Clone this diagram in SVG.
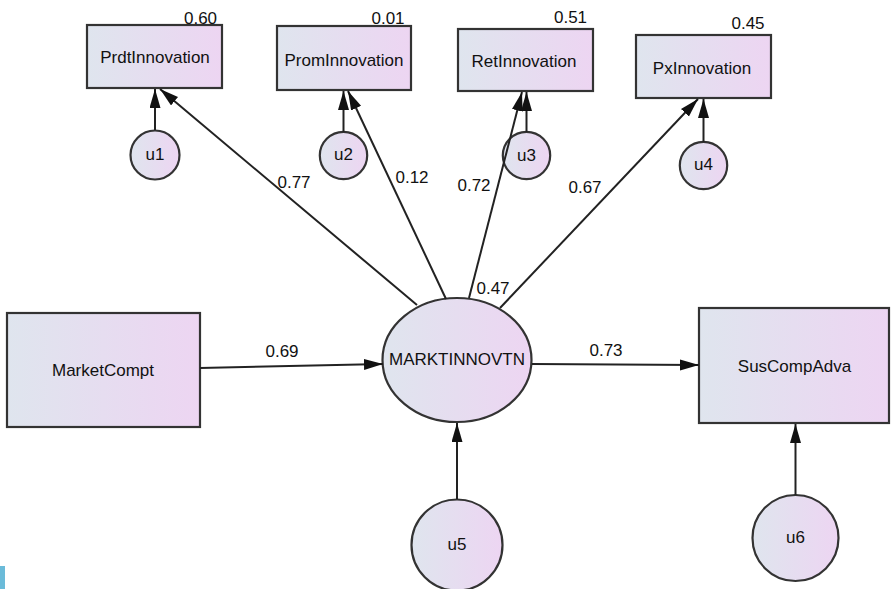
<svg xmlns="http://www.w3.org/2000/svg" width="891" height="589" viewBox="0 0 891 589">
<style>
.box{stroke:#333;stroke-width:2.2;fill:url(#g)}
.t{font-family:"Liberation Sans",Arial,sans-serif;font-size:17px;fill:#111;text-anchor:middle}
.c{stroke:#222;stroke-width:2;fill:none;marker-end:url(#ah)}
</style>
<defs>
<linearGradient id="g" x1="0" y1="0" x2="1" y2="0">
<stop offset="0" stop-color="#dfe5ee"/>
<stop offset="1" stop-color="#edd5f2"/>
</linearGradient>
<marker id="ah" markerUnits="userSpaceOnUse" markerWidth="20" markerHeight="12" refX="19" refY="5.5" orient="auto">
<path d="M0,0 L19,5.5 L0,11 z" fill="#111"/>
</marker>
</defs>
<rect x="0" y="566" width="5" height="23" fill="#6bbbd9"/>
<g id="PrdtInnovation">
<rect class="box" x="87" y="25" width="135" height="63"/>
<text class="t" x="155" y="63">PrdtInnovation</text>
<text class="t" x="200.5" y="24">0.60</text>
</g>
<g id="PromInnovation">
<rect class="box" x="277" y="26" width="134" height="64"/>
<text class="t" x="344" y="66">PromInnovation</text>
<text class="t" x="388" y="24">0.01</text>
</g>
<g id="RetInnovation">
<rect class="box" x="458" y="29" width="135" height="62"/>
<text class="t" x="524" y="67">RetInnovation</text>
<text class="t" x="570.5" y="23">0.51</text>
</g>
<g id="PxInnovation">
<rect class="box" x="636" y="35" width="135" height="63"/>
<text class="t" x="702" y="74">PxInnovation</text>
<text class="t" x="748" y="29">0.45</text>
</g>
<g id="u1">
<circle class="box" cx="155" cy="155" r="24.5"/>
<text class="t" x="155" y="160">u1</text>
</g>
<g id="u2">
<circle class="box" cx="343.5" cy="155.5" r="23.7"/>
<text class="t" x="343.5" y="160">u2</text>
</g>
<g id="u3">
<circle class="box" cx="526.5" cy="155.5" r="23.7"/>
<text class="t" x="526.5" y="161">u3</text>
</g>
<g id="u4">
<circle class="box" cx="703.5" cy="165.5" r="23.7"/>
<text class="t" x="703.5" y="170">u4</text>
</g>
<g id="MarketCompt">
<rect class="box" x="7" y="313" width="193" height="114"/>
<text class="t" x="103" y="376">MarketCompt</text>
</g>
<g id="MARKTINNOVTN">
<ellipse class="box" cx="457" cy="360" rx="74.5" ry="62"/>
<text class="t" x="457" y="365">MARKTINNOVTN</text>
</g>
<g id="SusCompAdva">
<rect class="box" x="699" y="308" width="190" height="115"/>
<text class="t" x="794.5" y="372">SusCompAdva</text>
</g>
<g id="u5">
<circle class="box" cx="457" cy="545" r="45.5"/>
<text class="t" x="457" y="550">u5</text>
</g>
<g id="u6">
<circle class="box" cx="795.5" cy="538" r="43"/>
<text class="t" x="795.5" y="543">u6</text>
</g>
<g id="connectors">
<line class="c" x1="417" y1="305" x2="160" y2="89"/>
<line class="c" x1="446" y1="299" x2="348" y2="91"/>
<line class="c" x1="469" y1="298" x2="522" y2="92"/>
<line class="c" x1="500" y1="308" x2="698" y2="99"/>
<line class="c" x1="155" y1="130" x2="155" y2="89"/>
<line class="c" x1="343.5" y1="132" x2="343.5" y2="91"/>
<line class="c" x1="526.5" y1="132" x2="526.5" y2="92"/>
<line class="c" x1="703.5" y1="142" x2="703.5" y2="99"/>
<line class="c" x1="200" y1="368" x2="383" y2="364"/>
<line class="c" x1="532" y1="364" x2="699" y2="365"/>
<line class="c" x1="457" y1="499" x2="457" y2="423"/>
<line class="c" x1="795.5" y1="495" x2="795.5" y2="424"/>
<text class="t" x="294" y="188">0.77</text>
<text class="t" x="412" y="183">0.12</text>
<text class="t" x="474" y="191">0.72</text>
<text class="t" x="585" y="193">0.67</text>
<text class="t" x="493" y="294">0.47</text>
<text class="t" x="282" y="357">0.69</text>
<text class="t" x="606" y="356">0.73</text>
</g>
</svg>
